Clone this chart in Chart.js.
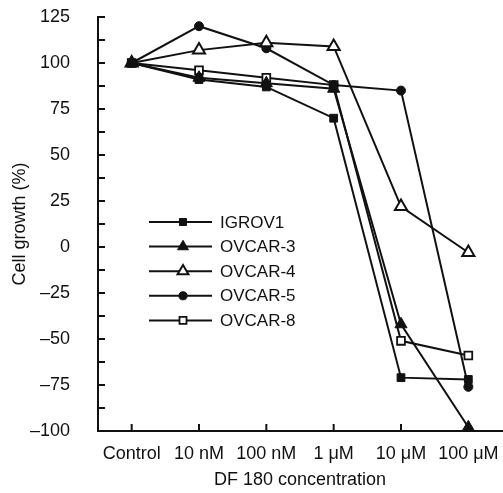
<!DOCTYPE html>
<html><head><meta charset="utf-8">
<script src="https://cdn.jsdelivr.net/npm/chart.js@4"></script>
<style>html,body{margin:0;padding:0;background:#fff;} #wrap{width:503px;height:493px;position:relative;}</style>
</head><body><div id="wrap"><canvas id="c"></canvas></div>
<script>
const categories = ['Control', '10 nM', '100 nM', '1 μM', '10 μM', '100 μM'];
const seriesNames = ['IGROV1', 'OVCAR-3', 'OVCAR-4', 'OVCAR-5', 'OVCAR-8'];
const igrov1 = [100, 91, 87, 70, -71, -72];
const ovcar3 = [100, 92, 89, 86, -42, -98];
const ovcar4 = [100, 107, 111, 109, 22, -3];
const ovcar5 = [100, 120, 108, 88, 85, -76];
const ovcar8 = [100, 96, 92, 88, -51, -59];
const yMin = -100, yMax = 125, yStep = 12.5, yLabelStep = 25;

const FONT = 'Arial, "Liberation Sans", sans-serif';
const INK = '#111';

function ds(label, data, style, fill, radius, bw) {
  return {
    label, data, borderColor: INK, borderWidth: 2, tension: 0, fill: false, clip: false,
    pointStyle: style, pointRadius: radius, pointBackgroundColor: fill,
    pointBorderColor: INK, pointBorderWidth: bw, pointHoverRadius: radius
  };
}

const inwardTicks = {
  id: 'inwardTicks',
  afterDraw(chart) {
    const { ctx, chartArea, scales: { x, y } } = chart;
    ctx.save();
    ctx.strokeStyle = INK; ctx.lineWidth = 2;
    y.ticks.forEach(t => {
      const py = y.getPixelForValue(t.value);
      ctx.beginPath(); ctx.moveTo(chartArea.left, py); ctx.lineTo(chartArea.left + 7, py); ctx.stroke();
    });
    x.ticks.forEach((t, i) => {
      const px = x.getPixelForTick(i);
      ctx.beginPath(); ctx.moveTo(px, chartArea.bottom); ctx.lineTo(px, chartArea.bottom - 7); ctx.stroke();
    });
    ctx.restore();
  }
};

const innerLegend = {
  id: 'innerLegend',
  afterDraw(chart) {
    const { ctx, chartArea } = chart;
    const x0 = chartArea.left + 51, x1 = chartArea.left + 114, xm = chartArea.left + 85, xt = chartArea.left + 122;
    ctx.save();
    ctx.font = '17px ' + FONT;
    ctx.textBaseline = 'middle';
    chart.data.datasets.forEach((d, i) => {
      const yy = chartArea.top + 205 + i * 24.6;
      ctx.strokeStyle = INK; ctx.lineWidth = 2;
      ctx.beginPath(); ctx.moveTo(x0, yy); ctx.lineTo(x1, yy); ctx.stroke();
      ctx.fillStyle = d.pointBackgroundColor; ctx.strokeStyle = INK; ctx.lineWidth = d.pointBorderWidth;
      Chart.helpers.drawPoint(ctx, { pointStyle: d.pointStyle, radius: d.pointRadius * 0.9, rotation: 0, borderWidth: d.pointBorderWidth }, xm, yy);
      ctx.fillStyle = INK;
      ctx.fillText(d.label, xt, yy + 1);
    });
    ctx.restore();
  }
};

new Chart(document.getElementById('c'), {
  type: 'line',
  data: {
    labels: categories,
    datasets: [
      ds(seriesNames[0], igrov1, 'rect', INK, 5.5, 1),
      ds(seriesNames[1], ovcar3, 'triangle', INK, 7, 1),
      ds(seriesNames[2], ovcar4, 'triangle', '#fff', 7, 2),
      ds(seriesNames[3], ovcar5, 'circle', INK, 4.5, 1),
      ds(seriesNames[4], ovcar8, 'rect', '#fff', 5.5, 1.8)
    ]
  },
  options: {
    responsive: true, maintainAspectRatio: false, animation: false,
    layout: { autoPadding: false, padding: { top: 17, right: 1, left: 0, bottom: 0 } },
    plugins: { legend: { display: false }, tooltip: { enabled: false } },
    scales: {
      x: {
        offset: true,
        grid: { display: true, drawOnChartArea: false, drawTicks: false },
        border: { display: true, color: INK, width: 2 },
        ticks: { color: INK, font: { family: FONT, size: 18 }, padding: 12, maxRotation: 0, autoSkip: false },
        title: { display: true, text: 'DF 180 concentration', color: INK, font: { family: FONT, size: 18 }, padding: { top: 0, bottom: 2 } },
        afterFit(s) { s.height = 62; s.paddingLeft = 0; s.paddingRight = 0; }
      },
      y: {
        min: yMin, max: yMax,
        grid: { display: true, drawOnChartArea: false, drawTicks: false },
        border: { display: true, color: INK, width: 2 },
        ticks: {
          stepSize: yStep, color: INK, font: { family: FONT, size: 18 }, padding: 28, autoSkip: false,
          callback: v => (v % yLabelStep === 0 ? String(v).replace('-', '–') : '')
        },
        title: { display: true, text: 'Cell growth (%)', color: INK, font: { family: FONT, size: 18 }, padding: { top: 9, bottom: 0 } },
        afterFit(s) { s.width = 98; s.paddingTop = 0; s.paddingBottom = 0; }
      }
    }
  },
  plugins: [inwardTicks, innerLegend]
});
</script></body></html>
